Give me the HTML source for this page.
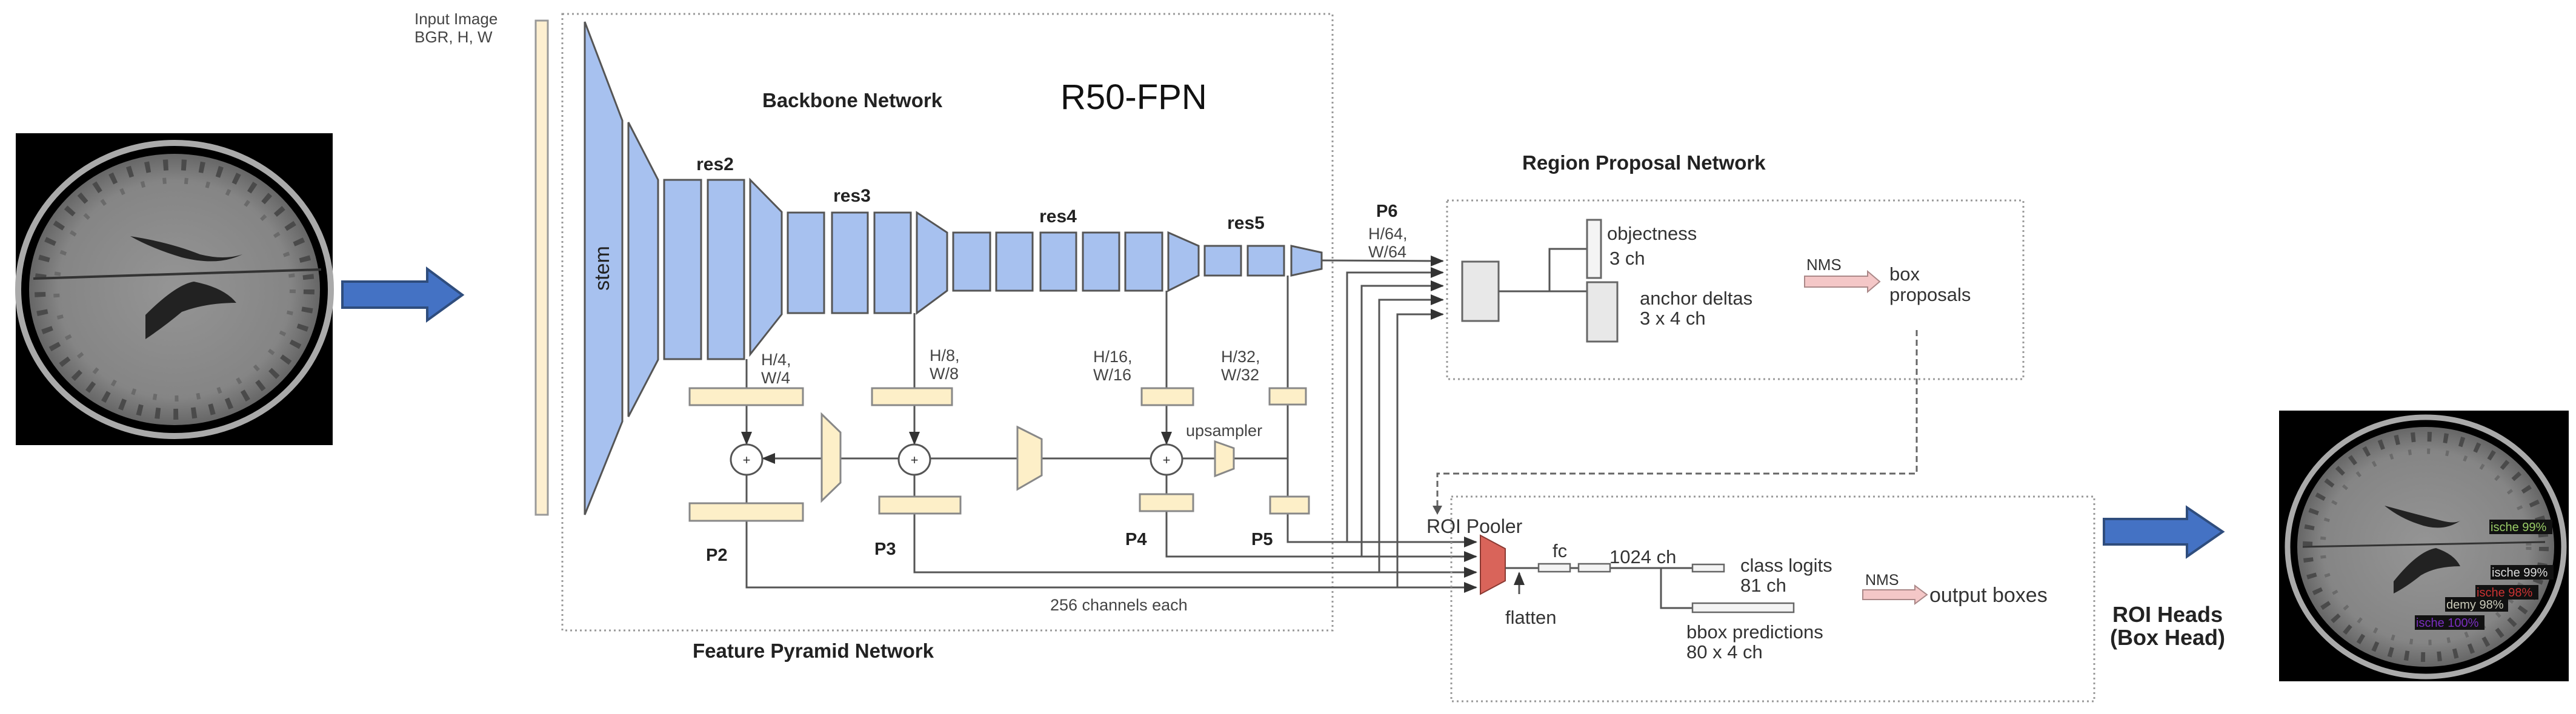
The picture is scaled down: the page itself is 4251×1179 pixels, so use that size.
<!DOCTYPE html>
<html><head><meta charset="utf-8"><style>
html,body{margin:0;padding:0;background:#fff;}
svg{display:block;}
text{font-family:"Liberation Sans",Arial,sans-serif;}
.b{font-weight:bold;}
</style></head><body>
<svg width="4251" height="1179" viewBox="0 0 4251 1179" xmlns="http://www.w3.org/2000/svg">
<defs>
<marker id="ah2" markerWidth="22" markerHeight="22" refX="20" refY="11" orient="auto" markerUnits="userSpaceOnUse" viewBox="0 0 22 22">
<path d="M0,2 L22,11 L0,20 z" fill="#333"/></marker>
<radialGradient id="bg1" cx="50%" cy="50%" r="50%"><stop offset="0" stop-color="#959595"/><stop offset="0.8" stop-color="#858585"/><stop offset="1" stop-color="#666"/></radialGradient>
</defs>
<g fill="#222">

<!-- left brain -->
<rect x="26" y="220" width="523" height="515" fill="#000"/>
<ellipse cx="288" cy="478" rx="258" ry="242" fill="none" stroke="#aaa" stroke-width="10"/>
<ellipse cx="288" cy="478" rx="240" ry="224" fill="url(#bg1)"/>
<ellipse cx="288" cy="478" rx="222" ry="206" fill="none" stroke="#4a4a4a" stroke-width="18" stroke-dasharray="8,22"/>
<ellipse cx="288" cy="478" rx="195" ry="180" fill="none" stroke="#6a6a6a" stroke-width="10" stroke-dasharray="6,30"/>
<path d="M215,390 Q280,400 330,420 Q370,430 400,420 Q360,440 300,425 Q250,410 215,390z" fill="#222"/>
<path d="M240,520 Q290,470 320,465 Q370,475 390,500 Q340,500 300,515 Q270,540 240,560z" fill="#222"/>
<line x1="55" y1="460" x2="530" y2="445" stroke="#333" stroke-width="4"/>

<!-- left arrow -->
<path d="M565,465 L705,465 L705,444 L763,487 L705,529 L705,508 L565,508z" fill="#4472c4" stroke="#2f4d7d" stroke-width="4"/>

<!-- input -->
<text x="684" y="40" font-size="26" fill="#444">Input Image</text>
<text x="684" y="70" font-size="26" fill="#444">BGR, H, W</text>
<rect x="884" y="34" width="20" height="816" fill="#fdefd0" stroke="#999" stroke-width="3"/>

<!-- backbone box -->
<rect x="928" y="23" width="1271" height="1018" fill="none" stroke="#999" stroke-width="3" stroke-dasharray="3,5"/>
<text x="1258" y="177" font-size="33" class="b">Backbone Network</text>
<text x="1750" y="180" font-size="58" fill="#111">R50-FPN</text>

<g fill="#a7c1ef" stroke="#555" stroke-width="3">
<polygon points="965,36 1027,199 1027,696 965,850"/>
<polygon points="1037,202 1086,297 1086,594 1037,688"/>
<rect x="1096" y="297" width="61" height="296"/>
<rect x="1168" y="297" width="60" height="296"/>
<polygon points="1238,297 1290,350 1290,519 1238,585"/>
<rect x="1300" y="351" width="60" height="166"/>
<rect x="1373" y="351" width="59" height="166"/>
<rect x="1443" y="351" width="60" height="166"/>
<polygon points="1513,351 1563,384 1563,480 1513,517"/>
<rect x="1573" y="384" width="61" height="96"/>
<rect x="1644" y="384" width="60" height="96"/>
<rect x="1717" y="384" width="59" height="96"/>
<rect x="1787" y="384" width="60" height="96"/>
<rect x="1857" y="384" width="61" height="96"/>
<polygon points="1928,384 1978,406 1978,455 1928,480"/>
<rect x="1988" y="406" width="60" height="49"/>
<rect x="2059" y="406" width="60" height="49"/>
<polygon points="2131,406 2181,417 2181,444 2131,455"/>
</g>
<text x="1005" y="443" font-size="34" transform="rotate(-90 1005 443)" text-anchor="middle">stem</text>
<g font-size="30" class="b" text-anchor="middle">
<text x="1180" y="281">res2</text><text x="1406" y="333">res3</text>
<text x="1746" y="367">res4</text><text x="2056" y="378">res5</text>
</g>

<!-- FPN lines -->
<g stroke="#555" stroke-width="3" fill="none">
<line x1="1232" y1="593" x2="1232" y2="641"/>
<line x1="1509" y1="517" x2="1509" y2="641"/>
<line x1="1925" y1="480" x2="1925" y2="641"/>
<line x1="2125" y1="455" x2="2125" y2="641"/>
<line x1="1232" y1="669" x2="1232" y2="733" marker-end="url(#ah2)"/>
<line x1="1509" y1="669" x2="1509" y2="733" marker-end="url(#ah2)"/>
<line x1="1925" y1="669" x2="1925" y2="733" marker-end="url(#ah2)"/>
<line x1="2125" y1="669" x2="2125" y2="820"/>
<line x1="2125" y1="757" x2="1952" y2="757"/>
<line x1="1898" y1="757" x2="1536" y2="757"/>
<line x1="1482" y1="757" x2="1259" y2="757" marker-end="url(#ah2)"/>
<line x1="1232" y1="785" x2="1232" y2="831"/>
<line x1="1509" y1="785" x2="1509" y2="820"/>
<line x1="1925" y1="785" x2="1925" y2="816"/>
<polyline points="2125,848 2125,895 2436,895" marker-end="url(#ah2)"/>
<polyline points="1925,844 1925,919 2436,919" marker-end="url(#ah2)"/>
<polyline points="1509,848 1509,945 2436,945" marker-end="url(#ah2)"/>
<polyline points="1232,860 1232,970 2436,970" marker-end="url(#ah2)"/>
<line x1="2181" y1="430" x2="2381" y2="431" marker-end="url(#ah2)"/>
<polyline points="2223,895 2223,450 2381,450" marker-end="url(#ah2)"/>
<polyline points="2247,919 2247,472 2381,472" marker-end="url(#ah2)"/>
<polyline points="2276,945 2276,495 2381,495" marker-end="url(#ah2)"/>
<polyline points="2306,970 2306,519 2381,519" marker-end="url(#ah2)"/>
</g>

<g fill="#fdefc8" stroke="#888" stroke-width="3">
<rect x="1138" y="641" width="187" height="28"/>
<rect x="1439" y="641" width="132" height="28"/>
<rect x="1884" y="641" width="85" height="28"/>
<rect x="2095" y="641" width="60" height="27"/>
<rect x="1138" y="831" width="187" height="29"/>
<rect x="1451" y="820" width="134" height="28"/>
<rect x="1881" y="816" width="88" height="28"/>
<rect x="2096" y="820" width="64" height="28"/>
<polygon points="1356,684 1387,714 1387,797 1356,827"/>
<polygon points="1679,705 1719,725 1719,785 1679,808"/>
<polygon points="2005,729 2036,740 2036,774 2005,786"/>
</g>
<g fill="#fff" stroke="#555" stroke-width="3">
<ellipse cx="1232" cy="759" rx="26" ry="25"/>
<ellipse cx="1509" cy="759" rx="26" ry="25"/>
<ellipse cx="1925" cy="759" rx="26" ry="25"/>
</g>
<g font-size="22" text-anchor="middle" fill="#333">
<text x="1232" y="767">+</text><text x="1509" y="767">+</text><text x="1925" y="767">+</text>
</g>
<g font-size="27" fill="#444">
<text x="1256" y="603">H/4,</text><text x="1256" y="633">W/4</text>
<text x="1534" y="596">H/8,</text><text x="1534" y="626">W/8</text>
<text x="1804" y="598">H/16,</text><text x="1804" y="628">W/16</text>
<text x="2015" y="598">H/32,</text><text x="2015" y="628">W/32</text>
<text x="1957" y="720">upsampler</text>
<text x="1733" y="1008">256 channels each</text>
<text x="2258" y="395">H/64,</text><text x="2258" y="425">W/64</text>
</g>
<g font-size="29" class="b">
<text x="1165" y="926">P2</text><text x="1443" y="916">P3</text>
<text x="1857" y="900">P4</text><text x="2065" y="900">P5</text>
<text x="2271" y="358">P6</text>
</g>
<text x="1143" y="1086" font-size="33" class="b">Feature Pyramid Network</text>

<!-- RPN -->
<text x="2512" y="280" font-size="33" class="b">Region Proposal Network</text>
<rect x="2388" y="331" width="951" height="295" fill="none" stroke="#999" stroke-width="3" stroke-dasharray="3,5"/>
<rect x="2413" y="432" width="60" height="98" fill="#e8e8e8" stroke="#666" stroke-width="3"/>
<g stroke="#555" stroke-width="3" fill="none">
<polyline points="2473,481 2619,481"/>
<polyline points="2557,481 2557,411 2619,411"/>
</g>
<rect x="2619" y="363" width="23" height="96" fill="#f4f4f4" stroke="#666" stroke-width="3"/>
<rect x="2619" y="466" width="50" height="98" fill="#e8e8e8" stroke="#666" stroke-width="3"/>
<g font-size="31" fill="#333">
<text x="2652" y="396">objectness</text><text x="2656" y="437">3 ch</text>
<text x="2706" y="503">anchor deltas</text><text x="2706" y="536">3 x 4 ch</text>
<text x="3118" y="463">box</text><text x="3118" y="497">proposals</text>
</g>
<text x="2981" y="446" font-size="26" fill="#333">NMS</text>
<path d="M2978,456 L3082,456 L3082,448 L3102,465 L3082,482 L3082,474 L2978,474z" fill="#f4c7c7" stroke="#a88" stroke-width="2"/>
<polyline points="3163,545 3163,782 2372,782 2372,840" fill="none" stroke="#666" stroke-width="3" stroke-dasharray="10,6"/>
<path d="M2364,835 L2372,850 L2380,835z" fill="#555"/>

<!-- ROI heads -->
<rect x="2395" y="820" width="1061" height="338" fill="none" stroke="#999" stroke-width="3" stroke-dasharray="3,5"/>
<text x="2354" y="880" font-size="32" fill="#333">ROI Pooler</text>
<polygon points="2443,884 2484,906 2484,959 2443,981" fill="#d9645a" stroke="#8a3a33" stroke-width="2"/>
<g stroke="#555" stroke-width="3" fill="none">
<line x1="2484" y1="938" x2="2539" y2="938"/>
<line x1="2591" y1="938" x2="2605" y2="938"/>
<line x1="2657" y1="938" x2="2793" y2="938"/>
<polyline points="2741,938 2741,1004 2793,1004"/>
<line x1="2507" y1="981" x2="2507" y2="946" marker-end="url(#ah2)"/>
</g>
<g fill="#f4f4f4" stroke="#666" stroke-width="2.5">
<rect x="2539" y="931" width="52" height="13"/>
<rect x="2605" y="931" width="52" height="13"/>
<rect x="2793" y="932" width="52" height="12"/>
<rect x="2793" y="996" width="167" height="15"/>
</g>
<g font-size="31" fill="#333">
<text x="2562" y="920">fc</text>
<text x="2656" y="930">1024 ch</text>
<text x="2872" y="944">class logits</text><text x="2872" y="977">81 ch</text>
<text x="2484" y="1030">flatten</text>
<text x="2783" y="1054">bbox predictions</text><text x="2783" y="1087">80 x 4 ch</text>
<text x="3184" y="994" font-size="34">output boxes</text>
</g>
<text x="3078" y="966" font-size="25" fill="#333">NMS</text>
<path d="M3074,974 L3160,974 L3160,967 L3180,982 L3160,997 L3160,990 L3074,990z" fill="#f4c7c7" stroke="#a88" stroke-width="2"/>

<!-- right arrow -->
<path d="M3472,857 L3609,857 L3609,838 L3668,878 L3609,919 L3609,899 L3472,899z" fill="#4472c4" stroke="#2f4d7d" stroke-width="4"/>
<text x="3486" y="1027" font-size="36" class="b">ROI Heads</text>
<text x="3482" y="1065" font-size="36" class="b">(Box Head)</text>

<!-- right brain -->
<rect x="3761" y="678" width="478" height="447" fill="#000"/>
<ellipse cx="4003" cy="903" rx="228" ry="214" fill="none" stroke="#aaa" stroke-width="9"/>
<ellipse cx="4003" cy="903" rx="212" ry="198" fill="url(#bg1)"/>
<ellipse cx="4003" cy="903" rx="195" ry="182" fill="none" stroke="#4a4a4a" stroke-width="16" stroke-dasharray="7,20"/>
<ellipse cx="4003" cy="903" rx="170" ry="158" fill="none" stroke="#6a6a6a" stroke-width="9" stroke-dasharray="5,26"/>
<path d="M3935,835 Q3990,850 4030,860 Q4050,865 4060,860 Q4030,880 3990,865 Q3960,855 3935,835z" fill="#222"/>
<path d="M3950,960 Q3990,910 4020,905 Q4050,915 4060,935 Q4020,935 3995,950 Q3970,970 3950,980z" fill="#222"/>
<line x1="3800" y1="903" x2="4200" y2="895" stroke="#333" stroke-width="3"/>
<g font-size="20">
<rect x="4108" y="858" width="104" height="24" fill="#111"/><text x="4110" y="877" style="fill:#9c6">ische 99%</text>
<rect x="4110" y="933" width="104" height="24" fill="#111"/><text x="4112" y="952" style="fill:#ddd">ische 99%</text>
<rect x="4085" y="966" width="104" height="24" fill="#111"/><text x="4087" y="985" style="fill:#c33">ische 98%</text>
<rect x="4035" y="986" width="104" height="24" fill="#111"/><text x="4037" y="1005" style="fill:#ccb">demy 98%</text>
<rect x="3985" y="1016" width="115" height="24" fill="#111"/><text x="3987" y="1035" style="fill:#7a2ec0">ische 100%</text>
</g>
</g>
</svg>
</body></html>
